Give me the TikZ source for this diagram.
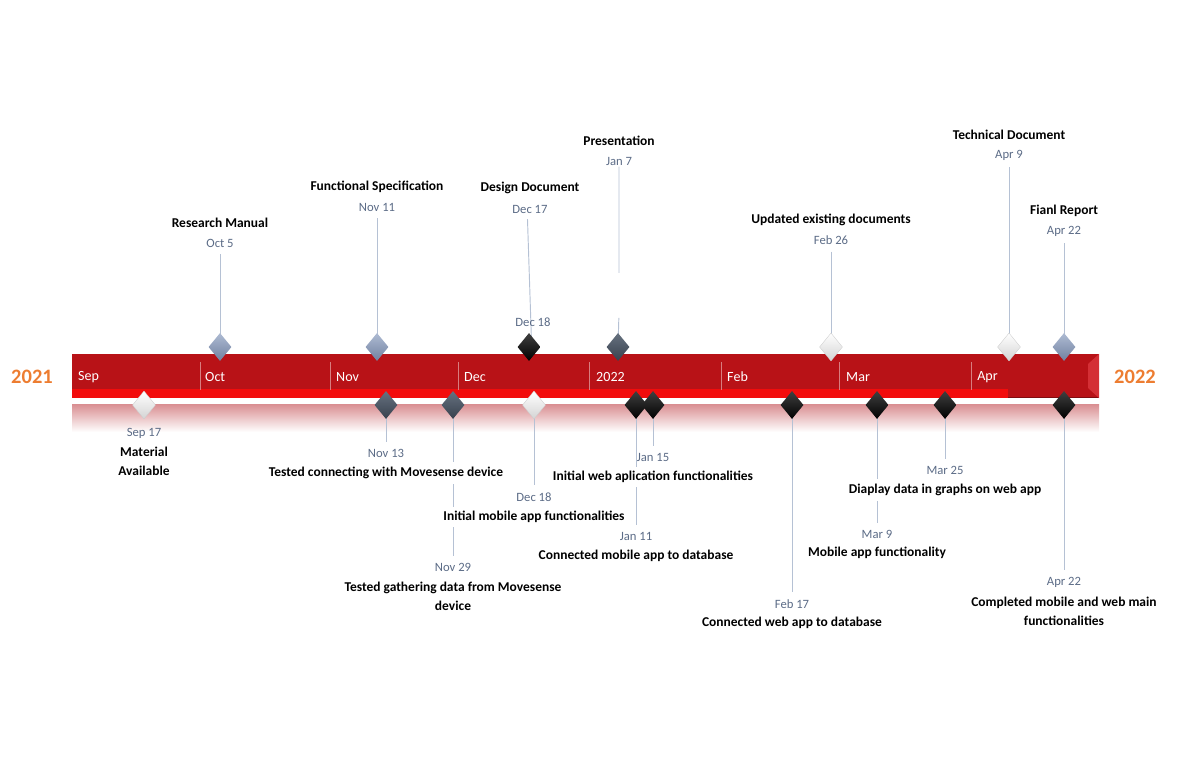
\documentclass[tikz,border=0pt]{standalone}
\usepackage{fontspec}
\setmainfont{Carlito}
\usetikzlibrary{shapes.geometric}
\pgfdeclarelayer{barlayer}
\pgfdeclarelayer{stemlayer}
\pgfsetlayers{barlayer,stemlayer,main}
\definecolor{barred}{HTML}{B81217}
\definecolor{stripred}{HTML}{F20C0C}
\definecolor{bevelred}{HTML}{D42F35}
\definecolor{fadepink}{HTML}{D98E91}
\definecolor{yearorange}{HTML}{ED7D31}
\definecolor{datecol}{HTML}{5B6B86}
\definecolor{stemcol}{HTML}{B5C1D4}
\definecolor{bluetop}{HTML}{AEBBD3}
\definecolor{bluebot}{HTML}{7181A0}
\definecolor{slatetop}{HTML}{66717F}
\definecolor{slatebot}{HTML}{38414E}
\tikzset{
  mtitle/.style={font=\fontsize{11.5}{16}\selectfont\bfseries, fill=white, inner xsep=1pt, inner ysep=4pt, align=center},
  mdate/.style={font=\fontsize{10.8}{12}\selectfont, text=datecol, inner sep=1pt},
  month/.style={font=\fontsize{12}{14}\selectfont, text=white, anchor=west, inner sep=0pt},
  year/.style={font=\fontsize{17.5}{20}\selectfont\bfseries, text=yearorange},
  stem/.style={draw=stemcol, line width=0.8pt},
  divider/.style={draw=barred!55!white, line width=0.5pt},
  gem/.style={diamond, minimum width=0.69cm, minimum height=0.84cm, inner sep=0pt},
  gemblue/.style={gem, top color=bluetop, bottom color=bluebot},
  gemslate/.style={gem, top color=slatetop, bottom color=slatebot},
  gemblack/.style={gem, top color=black!75, bottom color=black},
  gemwhite/.style={gem, top color=white, bottom color=black!17, draw=black!20, line width=0.3pt},
  }

\begin{document}
\begin{tikzpicture}[x=0.03cm, y=-0.03cm]
  \useasboundingbox (0,0) rectangle (1186,769);

  % the bar
  \begin{pgfonlayer}{barlayer}
    \fill[barred] (72,354) rectangle (1099,398);
    \fill[stripred] (72,389) rectangle (1008,398);
    \draw[barred!70!black, line width=0.6pt] (1008,397.5) -- (1099,397.5);
    \fill[bevelred] (1099,354) -- (1099,398) -- (1088,388) -- (1088,364) -- cycle;
    \shade[top color=fadepink, bottom color=white] (72,404) rectangle (1099,432);
    \draw[divider] (200,362) -- (200,390) (330,362) -- (330,390) (458,362) -- (458,390)
      (589,362) -- (589,390) (721,362) -- (721,390) (839,362) -- (839,390) (971,362) -- (971,390);
  \end{pgfonlayer}

  % months and years
  \node[month] (mSep) at (78,377) {Sep};
  \node[month] (mOct) at (205,377) {Oct};
  \node[month] (mNov) at (336,377) {Nov};
  \node[month] (mDec) at (464,377) {Dec};
  \node[month] (mJan) at (596,377) {2022};
  \node[month] (mFeb) at (727,377) {Feb};
  \node[month] (mMar) at (846,377) {Mar};
  \node[month] (mApr) at (977,377) {Apr};
  \node[year] (y2021) at (32,377) {2021};
  \node[year] (y2022) at (1135,377) {2022};

  % milestones above the bar
  \node[mtitle] (tOct5)  at (220,223) {Research Manual};
  \node[mdate]  (dtOct5) at (220,243) {Oct 5};
  \node[mtitle] (tNov11)  at (377,187) {Functional Specification};
  \node[mdate]  (dtNov11) at (377,207) {Nov 11};
  \node[mtitle] (tDec17)  at (530,188) {Design Document};
  \node[mdate]  (dtDec17) at (530,209) {Dec 17};
  \node[mdate]  (dtDec18t) at (533,322) {Dec 18};
  \node[mtitle] (tJan7)  at (619,141) {Presentation};
  \node[mdate]  (dtJan7) at (619,161) {Jan 7};
  \node[mtitle] (tFeb26)  at (831,220) {Updated existing documents};
  \node[mdate]  (dtFeb26) at (831,240) {Feb 26};
  \node[mtitle] (tApr9)  at (1009,135) {Technical Document};
  \node[mdate]  (dtApr9) at (1009,155) {Apr 9};
  \node[mtitle] (tApr22t)  at (1064,211) {Fianl Report};
  \node[mdate]  (dtApr22t) at (1064,231) {Apr 22};

  \node[gemblue]  (gOct5)   at (220,347) {};
  \node[gemblue]  (gNov11)  at (377,347) {};
  \node[gemblack] (gDec18t) at (529,347) {};
  \node[gemslate] (gJan7)   at (618,347) {};
  \node[gemwhite] (gFeb26)  at (831,347) {};
  \node[gemwhite] (gApr9)   at (1009,347) {};
  \node[gemblue]  (gApr22t) at (1064,347) {};

  % milestones below the bar
  \node[mdate]  (dtSep17) at (144,433) {Sep 17};
  \node[mtitle] (tSep17)  at (144,461) {Material\\Available};
  \node[mdate]  (dtNov13) at (386,453) {Nov 13};
  \node[mtitle] (tNov13)  at (386,473) {Tested connecting with Movesense device};
  \node[mdate]  (dtNov29) at (453,567) {Nov 29};
  \node[mtitle] (tNov29)  at (453,596) {Tested gathering data from Movesense\\device};
  \node[mdate]  (dtDec18b) at (534,497) {Dec 18};
  \node[mtitle] (tDec18b)  at (534,517) {Initial mobile app functionalities};
  \node[mdate]  (dtJan11) at (636,536) {Jan 11};
  \node[mtitle] (tJan11)  at (636,556) {Connected mobile app to database};
  \node[mdate]  (dtJan15) at (653,457) {Jan 15};
  \node[mtitle] (tJan15)  at (653,477) {Initial web aplication functionalities};
  \node[mdate]  (dtFeb17) at (792,604) {Feb 17};
  \node[mtitle] (tFeb17)  at (792,623) {Connected web app to database};
  \node[mdate]  (dtMar9) at (877,534) {Mar 9};
  \node[mtitle] (tMar9)  at (877,553) {Mobile app functionality};
  \node[mdate]  (dtMar25) at (945,470) {Mar 25};
  \node[mtitle] (tMar25)  at (945,490) {Diaplay data in graphs on web app};
  \node[mdate]  (dtApr22b) at (1064,582) {Apr 22};
  \node[mtitle] (tApr22b)  at (1064,611) {Completed mobile and web main\\functionalities};

  \node[gemwhite] (gSep17)   at (144,405) {};
  \node[gemslate] (gNov13)   at (386,405) {};
  \node[gemslate] (gNov29)   at (453,405) {};
  \node[gemwhite] (gDec18b)  at (534,405) {};
  \node[gemblack] (gJan11)   at (636,405) {};
  \node[gemblack] (gJan15)   at (653,405) {};
  \node[gemblack] (gFeb17)   at (792,405) {};
  \node[gemblack] (gMar9)    at (877,405) {};
  \node[gemblack] (gMar25)   at (945,405) {};
  \node[gemblack] (gApr22b)  at (1064,405) {};

  % stems
  \coordinate (cJan7a) at (619,273);
  \coordinate (cJan7b) at (619,312);
  \begin{pgfonlayer}{stemlayer}
    \draw[stem, shorten <=5pt] (dtOct5) -- (gOct5.center);
    \draw[stem, shorten <=5pt] (dtNov11) -- (gNov11.center);
    \draw[stem, shorten <=4pt] ([xshift=-0.08cm]dtDec17.south) -- ([xshift=0.08cm]gDec18t.center);
    \draw[stem, shorten <=5pt] (dtJan7) -- (cJan7a) (cJan7b) -- (gJan7.center);
    \draw[stem, shorten <=5pt] (dtFeb26) -- (gFeb26.center);
    \draw[stem, shorten <=5pt] (dtApr9) -- (gApr9.center);
    \draw[stem, shorten <=5pt] (dtApr22t) -- (gApr22t.center);
    \draw[stem, shorten >=5pt] (gNov13.center) -- (dtNov13);
    \draw[stem, shorten >=5pt] (gNov29.center) -- (dtNov29);
    \draw[stem, shorten >=5pt] (gDec18b.center) -- (dtDec18b);
    \draw[stem, shorten >=5pt] (gJan11.center) -- (dtJan11);
    \draw[stem, shorten >=5pt] (gJan15.center) -- (dtJan15);
    \draw[stem, shorten >=5pt] (gFeb17.center) -- (dtFeb17);
    \draw[stem, shorten >=5pt] (gMar9.center) -- (dtMar9);
    \draw[stem, shorten >=5pt] (gMar25.center) -- (dtMar25);
    \draw[stem, shorten >=5pt] (gApr22b.center) -- (dtApr22b);
  \end{pgfonlayer}
\end{tikzpicture}
\end{document}
